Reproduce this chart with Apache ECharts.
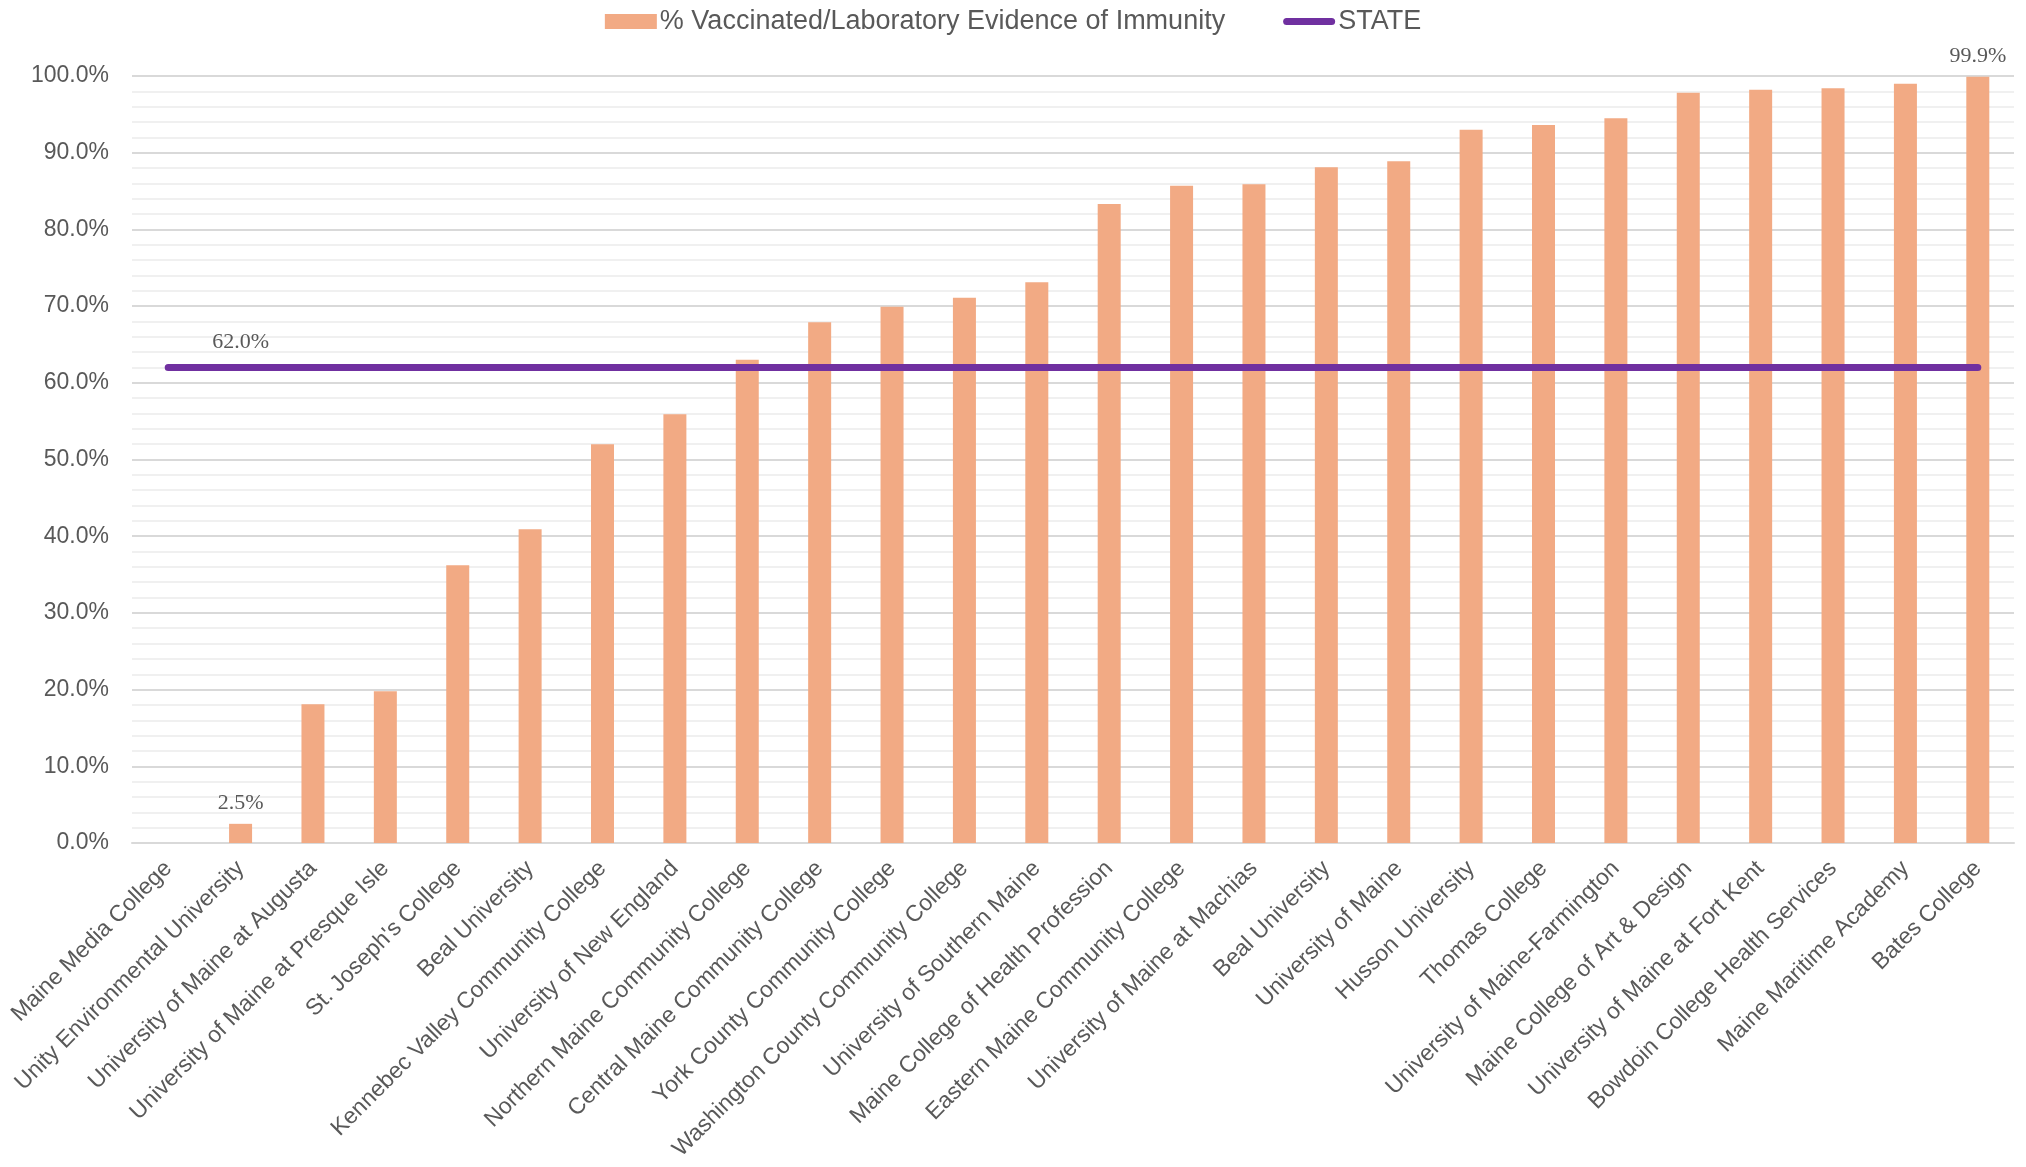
<!DOCTYPE html>
<html>
<head>
<meta charset="utf-8">
<script src="https://cdn.jsdelivr.net/npm/echarts@6/dist/echarts.min.js"></script>
<style>
html,body{margin:0;padding:0;background:#fff;}
#chart{width:2026px;height:1167px;}
</style>
</head>
<body>
<div id="chart"></div>
<script>
const categories = [
  "Maine Media College",
  "Unity Environmental University",
  "University of Maine at Augusta",
  "University of Maine at Presque Isle",
  "St. Joseph's College",
  "Beal University",
  "Kennebec Valley Community College",
  "University of New England",
  "Northern Maine Community College",
  "Central Maine Community College",
  "York County Community College",
  "Washington County Community College",
  "University of Southern Maine",
  "Maine College of Health Profession",
  "Eastern Maine Community College",
  "University of Maine at Machias",
  "Beal University",
  "University of Maine",
  "Husson University",
  "Thomas College",
  "University of Maine-Farmington",
  "Maine College of Art & Design",
  "University of Maine at Fort Kent",
  "Bowdoin College Health Services",
  "Maine Maritime Academy",
  "Bates College"
];
const vaccinated = [0, 2.5, 18.1, 19.8, 36.2, 40.9, 52.0, 55.9, 63.0, 67.9, 69.9, 71.1, 73.1, 83.3, 85.7, 85.9, 88.1, 88.9, 93.0, 93.6, 94.5, 97.8, 98.2, 98.4, 99.0, 99.9];
const stateValues = [62, 62, 62, 62, 62, 62, 62, 62, 62, 62, 62, 62, 62, 62, 62, 62, 62, 62, 62, 62, 62, 62, 62, 62, 62, 62];
const labeledBars = [1, 25];
const labeledLine = [1];
const yTicks = [0, 10, 20, 30, 40, 50, 60, 70, 80, 90, 100];

const SANS = "Liberation Sans, Arial, sans-serif";
const SERIF = "Liberation Serif, Times New Roman, serif";
const TXT = "#595959";
const LINE_ICON = 'path://M3.5,0 L48.5,0 A3.5,3.5 0 0 1 48.5,7 L3.5,7 A3.5,3.5 0 0 1 3.5,0 Z';

const chart = echarts.init(document.getElementById('chart'), null, {renderer: 'canvas'});
chart.setOption({
  backgroundColor: '#ffffff',
  animation: false,
  legend: {
    top: 3,
    left: 'center',
    itemWidth: 52,
    itemHeight: 15,
    itemGap: 58,
    textStyle: {fontFamily: SANS, fontSize: 27, color: TXT, padding: [0,0,0,-2]},
    data: [
      {name: '% Vaccinated/Laboratory Evidence of Immunity', icon: 'rect'},
      {name: 'STATE', icon: LINE_ICON, itemStyle: {color: '#7030a0'}}
    ]
  },
  grid: {left: 132, right: 12, top: 76, bottom: 324, containLabel: false},
  xAxis: {
    type: 'category',
    data: categories,
    boundaryGap: true,
    axisLine: {show: true, lineStyle: {color: '#d9d9d9', width: 2}},
    axisTick: {show: false},
    axisLabel: {
      interval: 0,
      rotate: 45,
      margin: 22,
      fontFamily: SANS,
      fontSize: 23,
      color: TXT
    }
  },
  yAxis: {
    type: 'value',
    min: yTicks[0],
    max: yTicks[yTicks.length - 1],
    interval: 10,
    axisLine: {show: false},
    axisTick: {show: false},
    axisLabel: {
      fontFamily: SANS,
      fontSize: 23,
      color: TXT,
      margin: 23,
      formatter: v => v.toFixed(1) + '%'
    },
    splitLine: {show: true, lineStyle: {color: '#d9d9d9', width: 2}},
    minorTick: {show: false, splitNumber: 5},
    minorSplitLine: {show: true, lineStyle: {color: '#f0f0f0', width: 2}}
  },
  series: [
    {
      name: '% Vaccinated/Laboratory Evidence of Immunity',
      type: 'bar',
      data: vaccinated,
      barWidth: 23,
      itemStyle: {color: '#f2aa84'},
      label: {
        show: true,
        position: 'top',
        distance: 10,
        fontFamily: SERIF,
        fontSize: 22,
        color: TXT,
        formatter: p => labeledBars.includes(p.dataIndex) ? p.value.toFixed(1) + '%' : ''
      },
      z: 2
    },
    {
      name: 'STATE',
      type: 'line',
      data: stateValues,
      symbol: 'circle',
      symbolSize: 0,
      showSymbol: true,
      lineStyle: {color: '#7030a0', width: 7, cap: 'round'},
      itemStyle: {color: '#7030a0'},
      label: {
        show: true,
        position: 'top',
        distance: 14,
        fontFamily: SERIF,
        fontSize: 22,
        color: TXT,
        formatter: p => labeledLine.includes(p.dataIndex) ? p.value.toFixed(1) + '%' : ''
      },
      z: 3
    }
  ]
});
</script>
</body>
</html>
